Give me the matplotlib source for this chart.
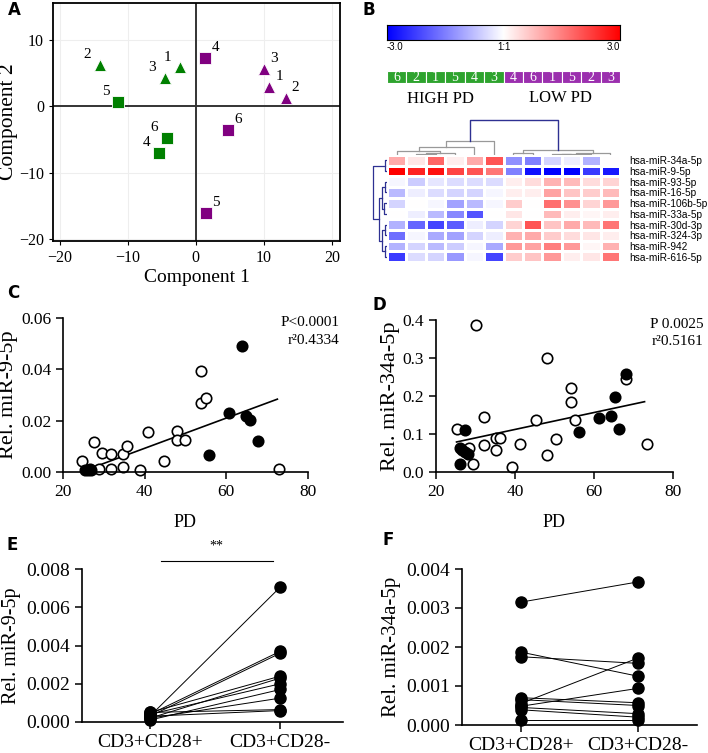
import numpy as np
import matplotlib
matplotlib.use("Agg")
import matplotlib.pyplot as plt
from matplotlib.colors import LinearSegmentedColormap

plt.rcParams['font.family'] = ['Liberation Serif', 'DejaVu Serif']

# ---------- data ----------
# A: PCA scores
pca_high_tri_x = [-2.35, -14.1, -4.6]
pca_high_tri_y = [5.8, 6.2, 4.2]
pca_high_tri_lab = ['1', '2', '3']
pca_high_sq_x = [-5.4, -11.4, -4.3]
pca_high_sq_y = [-7.1, 0.6, -4.8]
pca_high_sq_lab = ['4', '5', '6']
pca_low_tri_x = [10.8, 13.2, 10.0]
pca_low_tri_y = [2.8, 1.2, 5.6]
pca_low_tri_lab = ['1', '2', '3']
pca_low_sq_x = [1.4, 1.5, 4.8]
pca_low_sq_y = [7.3, -16.1, -3.6]
pca_low_sq_lab = ['4', '5', '6']

# B: heatmap
mirnas = ['hsa-miR-34a-5p', 'hsa-miR-9-5p', 'hsa-miR-93-5p', 'hsa-miR-16-5p',
          'hsa-miR-106b-5p', 'hsa-miR-33a-5p', 'hsa-miR-30d-3p', 'hsa-miR-324-3p',
          'hsa-miR-942', 'hsa-miR-616-5p']
sample_ids = ['6', '2', '1', '5', '4', '3', '4', '6', '1', '5', '2', '3']
heat = [
    [1.0, 0.3, 1.8, 0.2, 1.0, 2.0, -1.3, -1.5, -0.5, -0.2, -0.9, 0.0],
    [3.0, 2.6, 2.8, 2.2, 2.0, 1.6, -1.5, -2.8, -3.0, -3.0, -2.3, -2.7],
    [-0.1, -0.6, -0.3, -0.4, -0.4, -0.4, 0.2, 0.4, 0.9, 0.8, 0.4, 0.5],
    [-0.8, -0.2, -0.4, -0.5, -0.5, -0.1, 0.2, 0.2, 1.1, 0.7, 0.6, 0.8],
    [-0.5, 0.0, -0.1, -1.1, -0.8, -0.1, 0.6, 0.0, 1.7, 1.3, 0.5, 1.2],
    [0.0, -0.2, -0.8, -1.4, -2.0, 0.0, 0.3, 0.0, 0.8, 0.2, 0.1, 0.2],
    [-0.9, -1.8, -2.2, -1.9, -0.2, -0.5, 0.5, 2.0, 0.7, 1.0, 0.8, 1.6],
    [-1.7, -0.1, -1.0, -1.1, -0.5, -0.2, 0.9, 1.0, 0.6, 0.4, 0.3, 0.2],
    [-0.9, -0.5, -0.8, -0.6, -0.1, -1.0, 1.2, 1.1, 1.5, 1.2, 0.1, 0.9],
    [-2.3, -0.4, -0.5, -1.2, -0.1, -2.2, 0.6, 0.7, 1.2, 0.2, 0.3, 1.6],
]
# dendrograms as (left, right, height)
col_tree_left = ((((0, ((1, 2, 0.04), 3, 0.07), 0.10), 4, 0.23), 5, 0.40))
col_tree_right = (((6, 7, 0.064), (((8, 9, 0.028), 10, 0.036), 11, 0.047), 0.14))
col_top_height = 1.0
row_tree = ((0, 1, 0.12), (((2, 3, 0.12), (4, 5, 0.15), 0.30),
                           ((6, 7, 0.14), (8, 9, 0.10), 0.28), 0.47), 0.82)

# C: PD vs miR-9-5p
c_open_x = [24.7, 27.6, 28.8, 29.6, 31.7, 31.8, 34.7, 35.7, 34.7, 38.8, 40.8, 44.7,
            47.8, 47.8, 49.8, 53.7, 53.7, 54.9, 72.9]
c_open_y = [0.0043, 0.0117, 0.0013, 0.0074, 0.0069, 0.0010, 0.0069, 0.0100, 0.0020,
            0.0007, 0.0154, 0.0042, 0.0160, 0.0124, 0.0124, 0.0267, 0.0394, 0.0290, 0.0013]
c_fill_x = [25.5, 26.1, 26.5, 26.9, 55.8, 60.7, 63.8, 64.9, 65.9, 67.8]
c_fill_y = [0.0007, 0.0007, 0.0010, 0.0007, 0.0065, 0.0231, 0.0492, 0.0219, 0.0202, 0.0120]
c_fit = (0.000589, -0.01432)
c_fit_range = (26.0, 72.5)

# D: PD vs miR-34a-5p
d_open_x = [25.2, 30.1, 28.3, 29.3, 32.2, 32.2, 35.1, 36.2, 35.2, 39.3, 41.2, 45.3,
            48.2, 48.2, 50.3, 54.1, 54.1, 55.2, 68.2, 73.3]
d_open_y = [0.112, 0.387, 0.064, 0.022, 0.070, 0.145, 0.090, 0.090, 0.057, 0.013,
            0.075, 0.138, 0.301, 0.045, 0.086, 0.221, 0.185, 0.136, 0.246, 0.075]
d_fill_x = [27.3, 26.1, 26.7, 27.3, 28.2, 26.2, 56.2, 61.3, 64.2, 65.3, 66.3, 68.2]
d_fill_y = [0.110, 0.064, 0.057, 0.053, 0.047, 0.022, 0.105, 0.141, 0.147, 0.198, 0.112, 0.259]
d_fit = (0.002227, 0.0229)
d_fit_range = (25.2, 72.8)

# E / F: paired CD28+ vs CD28-
groups = ['CD3+CD28+', 'CD3+CD28-']
e_pos = [0.0003, 0.0004, 0.0003, 0.0005, 0.0002, 0.0004, 0.0001, 0.0002, 0.0005, 0.0003]
e_neg = [0.00706, 0.0037, 0.0036, 0.0024, 0.0023, 0.0020, 0.0017, 0.00125, 0.00065, 0.0006]
f_pos = [0.00315, 0.00187, 0.00175, 0.00055, 0.00048, 0.00070, 0.00065, 0.00045, 0.00039, 0.00012]
f_neg = [0.00367, 0.00125, 0.00158, 0.00172, 0.00094, 0.00057, 0.00050, 0.00029, 0.00020, 0.00012]

W, H = 708, 753
fig = plt.figure(figsize=(W / 100, H / 100), dpi=100)


def px_axes(x0, y0, x1, y1):
    # pixel box (left, top, right, bottom) -> figure axes
    return fig.add_axes([x0 / W, 1 - y1 / H, (x1 - x0) / W, (y1 - y0) / H])


def panel_label(x, y, s):
    fig.text(x / W, 1 - y / H, s, fontsize=12, fontweight='bold',
             family='DejaVu Sans', va='center', ha='left')


# ---------- A ----------
ax = px_axes(53, 3, 340, 241)
ax.set_xlim(-21, 21.2)
ax.set_ylim(-20.3, 15.5)
ax.set_xticks([-20, -10, 0, 10, 20])
ax.set_yticks([-20, -10, 0, 10])
ax.grid(color='#eeeeee', lw=0.8)
ax.set_axisbelow(True)
ax.axhline(0, color='#333333', lw=1.4)
ax.axvline(0, color='#333333', lw=1.4)
for s in ax.spines.values():
    s.set_linewidth(1.3)
ax.tick_params(labelsize=11.5, length=3, width=0.8)
ax.set_xlabel('Component 1', fontsize=14, labelpad=2)
ax.set_ylabel('Component 2', fontsize=15.5, labelpad=1)

sets = [
    (pca_high_tri_x, pca_high_tri_y, pca_high_tri_lab, '^', 'green'),
    (pca_high_sq_x, pca_high_sq_y, pca_high_sq_lab, 's', 'green'),
    (pca_low_tri_x, pca_low_tri_y, pca_low_tri_lab, '^', 'purple'),
    (pca_low_sq_x, pca_low_sq_y, pca_low_sq_lab, 's', 'purple'),
]
for xs, ys, labs, m, c in sets:
    ax.plot(xs, ys, ls='none', marker=m, ms=8, color=c, mec='white', mew=0.6)
    for x, y, t in zip(xs, ys, labs):
        dx = -9 if c == 'green' else 7
        ax.annotate(t, (x, y), xytext=(dx, 5), textcoords='offset points',
                    fontsize=11, ha='center')

# ---------- B ----------
panel_label(362, 10, 'B')
cmap = LinearSegmentedColormap.from_list('bwr2', ['#0000ff', '#ffffff', '#ff0000'])

cax = px_axes(387, 25, 620, 40)
cax.imshow(np.linspace(-3, 3, 256)[None, :], aspect='auto', cmap=cmap,
           extent=[-3, 3, 0, 1])
cax.set_xticks([])
cax.set_yticks([])
for s in cax.spines.values():
    s.set_linewidth(0.8)
for v, t, ha in [(-3, '-3.0', 'left'), (0, '1:1', 'center'), (3, '3.0', 'right')]:
    cax.text(v, -0.15, t, transform=cax.transData, ha=ha, va='top', fontsize=7,
             family='Liberation Sans')

gax = px_axes(387, 71, 620, 83)
ncol = len(sample_ids)
for i, sid in enumerate(sample_ids):
    col = '#2ea32e' if i < 6 else '#9b2fae'
    gax.add_patch(plt.Rectangle((i, 0), 1, 1, facecolor=col, edgecolor='white', lw=0.8))
    gax.text(i + 0.5, 0.45, sid, color='white', ha='center', va='center', fontsize=10)
gax.set_xlim(0, ncol)
gax.set_ylim(0, 1)
gax.axis('off')
fig.text(440 / W, 1 - 99 / H, 'HIGH PD', ha='center', va='center', fontsize=12)
fig.text(560 / W, 1 - 98 / H, 'LOW PD', ha='center', va='center', fontsize=12)

hax = px_axes(387, 155, 620, 262)
hm = np.array(heat)
hax.pcolormesh(np.arange(ncol + 1), np.arange(len(mirnas) + 1), hm, cmap=cmap,
               vmin=-3, vmax=3, edgecolors='white', linewidth=1.0)
hax.set_xlim(0, ncol)
hax.set_ylim(len(mirnas), 0)
hax.set_xticks([])
hax.yaxis.tick_right()
hax.set_yticks(np.arange(len(mirnas)) + 0.5)
hax.set_yticklabels(mirnas, fontsize=7.3, family='Liberation Sans')
hax.tick_params(axis='y', length=0, pad=7)
for s in hax.spines.values():
    s.set_visible(False)

navy = '#2e3192'
grey = '#999999'


def draw_tree(axd, node, orient, color):
    if isinstance(node, int):
        return node + 0.5, 0.0
    left, right, h = node
    p1, h1 = draw_tree(axd, left, orient, color)
    p2, h2 = draw_tree(axd, right, orient, color)
    ps = [p1, p1, p2, p2]
    hs = [h1, h, h, h2]
    if orient == 'top':
        axd.plot(ps, hs, color=color, lw=0.9)
    else:
        axd.plot(hs, ps, color=color, lw=0.9)
    return (p1 + p2) / 2, h


dax = px_axes(387, 119, 620, 155)
pl, hl = draw_tree(dax, col_tree_left, 'top', grey)
pr, hr = draw_tree(dax, col_tree_right, 'top', grey)
dax.plot([pl, pl, pr, pr], [hl, col_top_height, col_top_height, hr], color=navy, lw=1.0)
dax.set_xlim(0, ncol)
dax.set_ylim(0, 1.02)
dax.axis('off')

rax = px_axes(370, 155, 387, 262)
draw_tree(rax, row_tree, 'left', navy)
rax.set_xlim(1.0, 0)
rax.set_ylim(len(mirnas), 0)
rax.axis('off')

panel_label(8, 10, 'A')


# ---------- C / D ----------
def style_graphpad(a):
    a.spines['top'].set_visible(False)
    a.spines['right'].set_visible(False)
    a.spines['left'].set_linewidth(1.2)
    a.spines['bottom'].set_linewidth(1.2)
    a.tick_params(direction='out', length=5, width=1.1, labelsize=12.5)


def scatter_panel(a, ox, oy, fx, fy, fit, frange, ylim, yticks, yfmt, ylab, ylsize,
                  ptxt, rtxt):
    style_graphpad(a)
    a.set_xlim(20, 80)
    a.set_ylim(*ylim)
    a.set_xticks([20, 40, 60, 80])
    a.set_yticks(yticks)
    a.set_yticklabels([yfmt.format(v) for v in yticks])
    xs = np.array(frange)
    a.plot(xs, fit[0] * xs + fit[1], color='black', lw=1.2)
    a.plot(ox, oy, 'o', ms=7.5, mfc='white', mec='black', mew=1.2, clip_on=False)
    a.plot(fx, fy, 'o', ms=7.5, mfc='black', mec='black', mew=1.2, clip_on=False)
    a.set_xlabel('PD', fontsize=13, labelpad=10)
    a.set_ylabel(ylab, fontsize=ylsize, labelpad=2)
    a.text(1.13, 0.968, ptxt, transform=a.transAxes, ha='right', va='center', fontsize=11)
    a.text(1.13, 0.857, rtxt, transform=a.transAxes, ha='right', va='center', fontsize=11)


axc = px_axes(63, 318, 308, 472)
scatter_panel(axc, c_open_x, c_open_y, c_fill_x, c_fill_y, c_fit, c_fit_range,
              (0, 0.06), [0, 0.02, 0.04, 0.06], '{:.2f}', 'Rel. miR-9-5p', 16,
              'P<0.0001', 'r²0.4334')
panel_label(7, 293, 'C')

axd = px_axes(436, 320, 673, 472)
scatter_panel(axd, d_open_x, d_open_y, d_fill_x, d_fill_y, d_fit, d_fit_range,
              (0, 0.4), [0, 0.1, 0.2, 0.3, 0.4], '{:.1f}', 'Rel. miR-34a-5p', 16,
              'P 0.0025', 'r²0.5161')
panel_label(372, 305, 'D')


# ---------- E / F ----------
def paired_panel(a, pos, neg, ylim, yticks, ylab, ylsize, xlim):
    style_graphpad(a)
    a.tick_params(labelsize=14)
    a.set_xlim(*xlim)
    a.set_ylim(*ylim)
    a.set_yticks(yticks)
    a.set_yticklabels(['{:.3f}'.format(v) for v in yticks])
    a.set_xticks([0, 1])
    a.set_xticklabels(groups, fontsize=14)
    for p, n in zip(pos, neg):
        a.plot([0, 1], [p, n], color='black', lw=0.7)
    a.plot(np.zeros(len(pos)), pos, 'o', ms=8, color='black', clip_on=False)
    a.plot(np.ones(len(neg)), neg, 'o', ms=8, color='black', clip_on=False)
    a.set_ylabel(ylab, fontsize=ylsize, labelpad=4)


axe = px_axes(82, 569, 343, 722)
paired_panel(axe, e_pos, e_neg, (0, 0.008), [0, 0.002, 0.004, 0.006, 0.008],
             'Rel. miR-9-5p', 14.5, (-0.52, 1.48))
axe.plot([0.085, 0.94], [0.00844, 0.00844], color='black', lw=0.8, clip_on=False)
axe.text(0.51, 0.0092, '**', ha='center', va='center', fontsize=10, clip_on=False)
panel_label(7, 545, 'E')

axf = px_axes(462, 569, 697, 725)
paired_panel(axf, f_pos, f_neg, (0, 0.004), [0, 0.001, 0.002, 0.003, 0.004],
             'Rel. miR-34a-5p', 15, (-0.50, 1.50))
panel_label(383, 540, 'F')

fig.savefig('out.png', dpi=100)
